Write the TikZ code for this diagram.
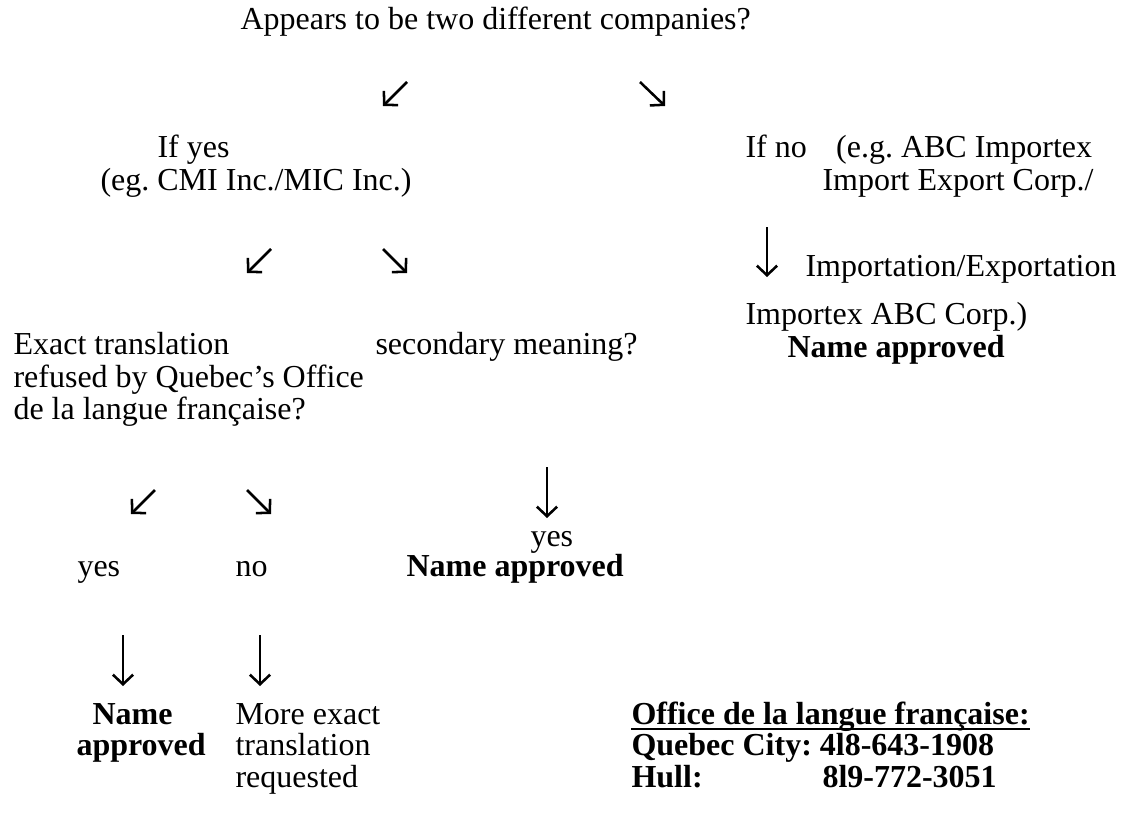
\documentclass[tikz,border=0pt]{standalone}
\usepackage{fontspec}
\setmainfont{Liberation Serif}
\usetikzlibrary{positioning, arrows.meta}
\tikzset{
    txt/.style = {anchor = base west, inner sep = 0pt,
        font = \fontsize{12}{12}\selectfont},
    boldtxt/.style = {txt, font = \fontsize{12}{12}\selectfont\bfseries},
    line/.style = {-{Straight Barb[length=3.6pt, width=7.6pt]}, line width = 0.95pt}
}
\frenchspacing
\begin{document}
\begin{tikzpicture}[x = 0.375pt, y = -0.375pt]
    \useasboundingbox (0,0) rectangle (1124,817);

    % question
    \node[txt] (question) at (240,29) {Appears to be two different companies?};

    % yes branch
    \node[txt] (ifyes) at (157,158) {If yes};
    \node[txt] (egyes) at (100,190) {(eg. CMI Inc./MIC Inc.)};

    % no branch
    \node[txt] (ifno) at (745,158) {If no\hspace{11pt}(e.g. ABC Importex};
    \node[txt] (egno1) at (822,190) {Import Export Corp./};
    \node[txt] (egno2) at (805,277) {Importation/Exportation};
    \node[txt] (egno3) at (745,325) {Importex ABC Corp.)};
    \node[boldtxt] (okno) at (787,357) {Name approved};

    % translation / secondary meaning
    \node[txt] (exact1) at (13,355) {Exact translation};
    \node[txt] (exact2) at (13,387) {refused by Quebec’s Office};
    \node[txt] (exact3) at (13,419) {de la langue française?};
    \node[txt] (second) at (375,355) {secondary meaning?};

    \node[txt] (yessec) at (530,546) {yes};
    \node[boldtxt] (oksec) at (406,576) {Name approved};
    \node[txt] (yesex) at (77,576) {yes};
    \node[txt] (noex) at (235,576) {no};

    % results
    \node[boldtxt] (okex1) at (92,724) {Name};
    \node[boldtxt] (okex2) at (76,755) {approved};
    \node[txt] (more1) at (235,724) {More exact};
    \node[txt] (more2) at (235,755) {translation};
    \node[txt] (more3) at (235,787) {requested};

    % contact
    \node[boldtxt] (office) at (631,724) {Office de la langue française:};
    \draw[line width = 0.75pt] ([yshift=-1.8pt]office.base west) -- ([yshift=-1.8pt]office.base east);
    \node[boldtxt] (quebec) at (631,755) {Quebec City: 4l8-643-1908};
    \node[boldtxt] (hull) at (631,787) {Hull:};
    \node[boldtxt] (hullno) at (822,787) {8l9-772-3051};

    % arrow ends
    \coordinate (a1) at (407,82);  \coordinate (a1e) at (383,106);
    \coordinate (a2) at (640,82);  \coordinate (a2e) at (665,106);
    \coordinate (b1) at (271,249); \coordinate (b1e) at (247,273);
    \coordinate (b2) at (383,249); \coordinate (b2e) at (407,273);
    \coordinate (c1) at (767,227); \coordinate (c1e) at (767,277);
    \coordinate (d1) at (155,490); \coordinate (d1e) at (131,514);
    \coordinate (d2) at (247,490); \coordinate (d2e) at (271,514);
    \coordinate (e1) at (547,467); \coordinate (e1e) at (547,518);
    \coordinate (f1) at (123,635); \coordinate (f1e) at (123,686);
    \coordinate (f2) at (260,635); \coordinate (f2e) at (260,686);

    \draw[line] (a1) -- (a1e);
    \draw[line] (a2) -- (a2e);
    \draw[line] (b1) -- (b1e);
    \draw[line] (b2) -- (b2e);
    \draw[line] (c1) -- (c1e);
    \draw[line] (d1) -- (d1e);
    \draw[line] (d2) -- (d2e);
    \draw[line] (e1) -- (e1e);
    \draw[line] (f1) -- (f1e);
    \draw[line] (f2) -- (f2e);

\end{tikzpicture}
\end{document}
